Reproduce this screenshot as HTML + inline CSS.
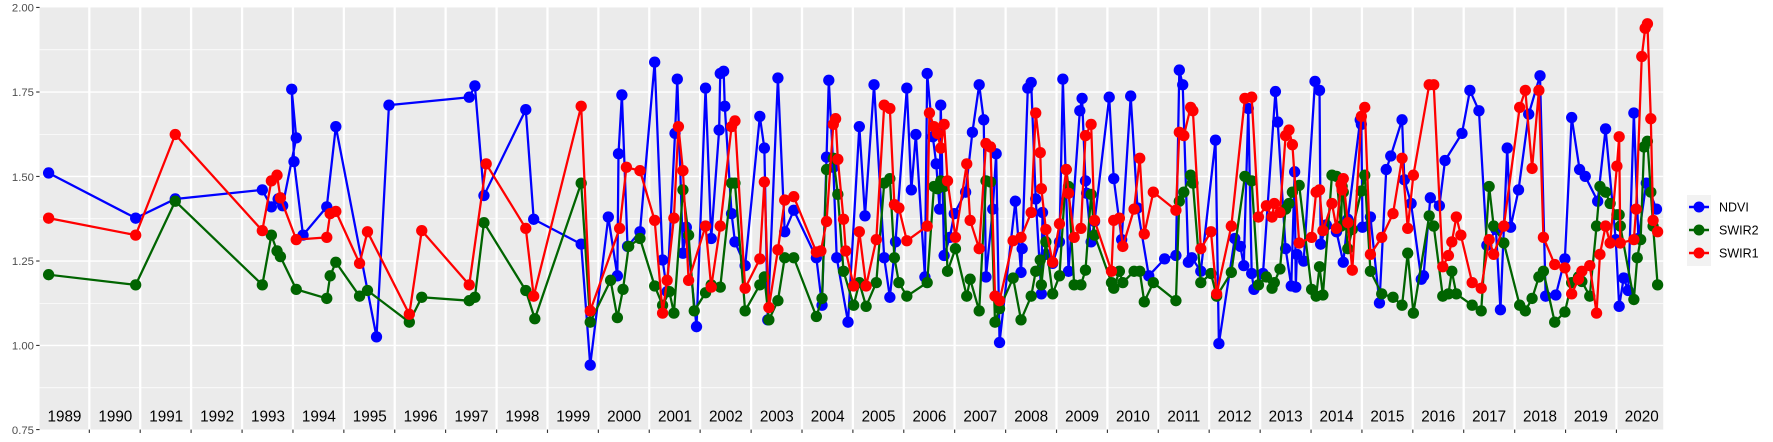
<!DOCTYPE html>
<html><head><meta charset="utf-8"><style>
html,body{margin:0;padding:0;background:#fff;}
svg{display:block;font-family:"Liberation Sans",Arial,sans-serif;}
</style></head><body>
<svg width="1773" height="442" viewBox="0 0 1773 442" xmlns="http://www.w3.org/2000/svg">
<defs>
<marker id="mb" markerUnits="userSpaceOnUse" markerWidth="12" markerHeight="12" refX="6" refY="6"><circle cx="6" cy="6" r="5" fill="#0000ff"/></marker>
<marker id="mg" markerUnits="userSpaceOnUse" markerWidth="12" markerHeight="12" refX="6" refY="6"><circle cx="6" cy="6" r="5" fill="#006400"/></marker>
<marker id="mr" markerUnits="userSpaceOnUse" markerWidth="12" markerHeight="12" refX="6" refY="6"><circle cx="6" cy="6" r="5" fill="#ff0000"/></marker>
</defs>
<g transform="scale(1.1307,1.1304)">
<rect x="35" y="6.6" width="1436" height="373.4" fill="#ebebeb"/>
<g stroke="#fff" stroke-width="0.6">
<line x1="35" x2="1471" y1="343" y2="343"/><line x1="35" x2="1471" y1="268.3" y2="268.3"/><line x1="35" x2="1471" y1="193.5" y2="193.5"/><line x1="35" x2="1471" y1="118.8" y2="118.8"/><line x1="35" x2="1471" y1="44" y2="44"/>
</g>
<g stroke="#fff" stroke-width="1.2">
<line x1="35" x2="1471" y1="305.6" y2="305.6"/><line x1="35" x2="1471" y1="230.9" y2="230.9"/><line x1="35" x2="1471" y1="156.1" y2="156.1"/><line x1="35" x2="1471" y1="81.4" y2="81.4"/>
</g>
<g stroke="#fff" stroke-width="2">
<line x1="79" x2="79" y1="6.6" y2="380"/><line x1="124" x2="124" y1="6.6" y2="380"/><line x1="169" x2="169" y1="6.6" y2="380"/><line x1="214.1" x2="214.1" y1="6.6" y2="380"/><line x1="259.1" x2="259.1" y1="6.6" y2="380"/><line x1="304.1" x2="304.1" y1="6.6" y2="380"/><line x1="349.1" x2="349.1" y1="6.6" y2="380"/><line x1="394.1" x2="394.1" y1="6.6" y2="380"/><line x1="439.2" x2="439.2" y1="6.6" y2="380"/><line x1="484.2" x2="484.2" y1="6.6" y2="380"/><line x1="529.2" x2="529.2" y1="6.6" y2="380"/><line x1="574.2" x2="574.2" y1="6.6" y2="380"/><line x1="619.2" x2="619.2" y1="6.6" y2="380"/><line x1="664.3" x2="664.3" y1="6.6" y2="380"/><line x1="709.3" x2="709.3" y1="6.6" y2="380"/><line x1="754.3" x2="754.3" y1="6.6" y2="380"/><line x1="799.3" x2="799.3" y1="6.6" y2="380"/><line x1="844.3" x2="844.3" y1="6.6" y2="380"/><line x1="889.4" x2="889.4" y1="6.6" y2="380"/><line x1="934.4" x2="934.4" y1="6.6" y2="380"/><line x1="979.4" x2="979.4" y1="6.6" y2="380"/><line x1="1024.4" x2="1024.4" y1="6.6" y2="380"/><line x1="1069.4" x2="1069.4" y1="6.6" y2="380"/><line x1="1114.5" x2="1114.5" y1="6.6" y2="380"/><line x1="1159.5" x2="1159.5" y1="6.6" y2="380"/><line x1="1204.5" x2="1204.5" y1="6.6" y2="380"/><line x1="1249.5" x2="1249.5" y1="6.6" y2="380"/><line x1="1294.5" x2="1294.5" y1="6.6" y2="380"/><line x1="1339.6" x2="1339.6" y1="6.6" y2="380"/><line x1="1384.6" x2="1384.6" y1="6.6" y2="380"/><line x1="1429.6" x2="1429.6" y1="6.6" y2="380"/>
</g>
<g stroke="#333" stroke-width="1">
<line x1="79" x2="79" y1="380" y2="383"/><line x1="124" x2="124" y1="380" y2="383"/><line x1="169" x2="169" y1="380" y2="383"/><line x1="214.1" x2="214.1" y1="380" y2="383"/><line x1="259.1" x2="259.1" y1="380" y2="383"/><line x1="304.1" x2="304.1" y1="380" y2="383"/><line x1="349.1" x2="349.1" y1="380" y2="383"/><line x1="394.1" x2="394.1" y1="380" y2="383"/><line x1="439.2" x2="439.2" y1="380" y2="383"/><line x1="484.2" x2="484.2" y1="380" y2="383"/><line x1="529.2" x2="529.2" y1="380" y2="383"/><line x1="574.2" x2="574.2" y1="380" y2="383"/><line x1="619.2" x2="619.2" y1="380" y2="383"/><line x1="664.3" x2="664.3" y1="380" y2="383"/><line x1="709.3" x2="709.3" y1="380" y2="383"/><line x1="754.3" x2="754.3" y1="380" y2="383"/><line x1="799.3" x2="799.3" y1="380" y2="383"/><line x1="844.3" x2="844.3" y1="380" y2="383"/><line x1="889.4" x2="889.4" y1="380" y2="383"/><line x1="934.4" x2="934.4" y1="380" y2="383"/><line x1="979.4" x2="979.4" y1="380" y2="383"/><line x1="1024.4" x2="1024.4" y1="380" y2="383"/><line x1="1069.4" x2="1069.4" y1="380" y2="383"/><line x1="1114.5" x2="1114.5" y1="380" y2="383"/><line x1="1159.5" x2="1159.5" y1="380" y2="383"/><line x1="1204.5" x2="1204.5" y1="380" y2="383"/><line x1="1249.5" x2="1249.5" y1="380" y2="383"/><line x1="1294.5" x2="1294.5" y1="380" y2="383"/><line x1="1339.6" x2="1339.6" y1="380" y2="383"/><line x1="1384.6" x2="1384.6" y1="380" y2="383"/><line x1="1429.6" x2="1429.6" y1="380" y2="383"/>
<line x1="32" x2="35" y1="6.6" y2="6.6"/><line x1="32" x2="35" y1="81.4" y2="81.4"/><line x1="32" x2="35" y1="156.1" y2="156.1"/><line x1="32" x2="35" y1="230.9" y2="230.9"/><line x1="32" x2="35" y1="305.6" y2="305.6"/><line x1="32" x2="35" y1="380" y2="380"/>
</g>
<g font-size="10" fill="#4d4d4d" text-anchor="end">
<text x="30" y="10">2.00</text><text x="30" y="85">1.75</text><text x="30" y="160">1.50</text><text x="30" y="234.5">1.25</text><text x="30" y="309">1.00</text><text x="30" y="384">0.75</text>
</g>
<g font-size="13.5" fill="#000" text-anchor="middle">
<text x="57" y="373">1989</text><text x="102" y="373">1990</text><text x="147" y="373">1991</text><text x="192" y="373">1992</text><text x="237" y="373">1993</text><text x="282" y="373">1994</text><text x="327" y="373">1995</text><text x="372" y="373">1996</text><text x="417" y="373">1997</text><text x="462" y="373">1998</text><text x="507" y="373">1999</text><text x="552" y="373">2000</text><text x="597" y="373">2001</text><text x="642" y="373">2002</text><text x="687" y="373">2003</text><text x="732" y="373">2004</text><text x="777" y="373">2005</text><text x="822" y="373">2006</text><text x="867" y="373">2007</text><text x="912" y="373">2008</text><text x="957" y="373">2009</text><text x="1002" y="373">2010</text><text x="1047" y="373">2011</text><text x="1092" y="373">2012</text><text x="1137" y="373">2013</text><text x="1182" y="373">2014</text><text x="1227" y="373">2015</text><text x="1272" y="373">2016</text><text x="1317" y="373">2017</text><text x="1362" y="373">2018</text><text x="1407" y="373">2019</text><text x="1452" y="373">2020</text>
</g>
<g fill="none" stroke-width="2" stroke-linejoin="round">
<polyline stroke="#0000ff" marker-start="url(#mb)" marker-mid="url(#mb)" marker-end="url(#mb)" points="43,153 120,193 155,176 232,168 240,183 246,176 250,182 262,122 258,79 260,143 268,208 289,183 297,112 333,298 344,93 415,86 420,76 428,173 465,97 472,194 514,216 522,323 538,192 546,244 547,136 550,84 555,218 566,205 579,55 586,230 590,258 597,118 599,70 604,224 607,201 616,289 624,78 629,211 636,115 637,65 640,63 641,94 647,189 650,214 659,235 672,103 676,131 679,283 688,69 694,205 702,186 722,228 727,270 731,139 733,71 737,148 740,228 750,285 760,112 765,191 773,75 782,228 787,263 792,214 802,78 806,168 810,119 818,245 820,65 825,121 828,145 831,185 832,93 835,226 840,210 844,189 854,170 860,117 866,75 870,106 872,245 878,185 881,136 884,303 898,178 903,241 904,220 909,78 912,73 916,176 921,260 922,188 925,225 931,233 937,214 940,70 945,240 955,98 957,87 960,160 961,171 965,214 968,196 981,86 985,158 992,212 1000,85 1006,184 1016,244 1030,229 1040,226 1043,62 1046,75 1051,232 1054,228 1062,240 1075,124 1078,304 1092,211 1097,218 1100,235 1104,96 1107,242 1109,256 1117,242 1128,81 1130,108 1137,220 1142,253 1145,152 1146,254 1147,225 1153,231 1163,72 1167,80 1168,216 1173,199 1182,205 1188,232 1192,194 1203,106 1204,110 1205,201 1212,192 1220,268 1226,150 1230,138 1240,106 1242,159 1248,180 1257,247 1259,244 1265,175 1273,182 1278,142 1293,118 1300,80 1308,98 1315,217 1323,203 1327,274 1333,131 1336,201 1343,168 1352,101 1362,67 1367,262 1376,261 1384,229 1390,104 1397,150 1402,156 1413,178 1420,114 1429,212 1432,271 1436,246 1440,257 1445,100 1449,211 1456,162 1465,185"/>
<polyline stroke="#006400" marker-start="url(#mg)" marker-mid="url(#mg)" marker-end="url(#mg)" points="43,243 120,252 155,178 232,252 240,208 245,222 248,227 262,256 289,264 292,244 297,232 318,262 325,257 362,285 373,263 415,266 420,263 428,197 465,257 473,282 514,162 522,285 540,248 546,281 551,256 556,218 566,211 579,253 586,270 592,258 596,277 604,168 609,208 614,275 624,259 629,252 637,254 647,162 650,162 659,275 672,252 676,245 680,283 688,266 694,228 702,228 722,280 727,264 731,150 737,140 741,172 746,240 755,270 760,250 766,271 775,250 782,162 787,158 791,228 795,250 802,262 820,250 826,165 829,167 832,160 835,165 838,240 845,220 855,262 858,247 866,275 872,160 876,161 880,285 884,273 896,246 903,283 912,262 916,240 920,230 921,252 925,214 931,260 937,244 943,150 945,165 950,252 956,252 960,239 965,172 968,208 983,250 985,255 990,240 993,250 1003,240 1008,240 1012,267 1020,250 1040,266 1043,178 1047,170 1053,155 1055,162 1062,250 1071,242 1076,262 1089,241 1101,156 1107,160 1113,252 1120,245 1125,255 1127,250 1132,238 1137,185 1140,180 1143,170 1149,164 1160,256 1164,262 1167,236 1170,261 1178,155 1182,156 1186,200 1187,165 1188,170 1192,220 1196,203 1204,169 1207,155 1212,240 1222,260 1232,263 1240,270 1245,224 1250,277 1264,191 1268,200 1276,262 1281,260 1284,240 1288,260 1302,270 1310,275 1317,165 1321,200 1330,215 1344,270 1349,275 1355,264 1361,245 1365,240 1375,285 1384,276 1390,250 1396,245 1399,249 1406,262 1412,200 1415,165 1420,170 1424,180 1430,190 1432,190 1433,200 1445,265 1448,228 1451,212 1454,130 1457,125 1460,170 1462,200 1466,252"/>
<polyline stroke="#ff0000" marker-start="url(#mr)" marker-mid="url(#mr)" marker-end="url(#mr)" points="43,193 120,208 155,119 232,204 240,160 245,155 248,175 262,212 289,210 292,189 297,187 318,233 325,205 362,278 373,204 415,252 430,145 465,202 472,262 514,94 522,275 548,202 554,148 566,151 579,195 586,277 590,248 596,193 600,112 604,151 609,248 624,200 629,254 637,200 647,112 650,107 659,255 672,229 676,161 680,272 688,221 694,177 702,174 722,223 726,222 731,196 737,110 739,105 741,141 746,194 748,222 755,253 760,205 766,253 775,212 782,93 787,96 791,181 795,184 802,213 820,200 822,100 826,112 829,118 832,131 835,110 838,160 845,210 855,145 858,195 866,220 872,127 876,130 880,262 884,266 896,213 903,210 912,188 916,100 920,135 921,167 925,203 931,232 937,198 943,150 945,171 950,210 956,202 960,120 965,110 968,195 983,240 985,195 990,193 993,218 1003,185 1008,140 1012,207 1020,170 1040,186 1043,117 1047,120 1053,95 1055,98 1062,220 1071,205 1076,260 1089,200 1101,87 1107,86 1113,192 1120,182 1125,192 1127,180 1132,188 1137,120 1140,115 1143,128 1149,215 1160,210 1164,170 1167,168 1170,204 1178,180 1182,202 1186,163 1187,168 1188,158 1192,197 1196,239 1204,103 1207,95 1212,225 1222,210 1232,189 1240,140 1245,202 1250,155 1264,75 1268,75 1276,236 1281,226 1284,214 1288,192 1292,208 1302,250 1310,255 1317,212 1321,225 1330,200 1344,95 1349,80 1355,149 1361,80 1365,210 1375,234 1384,237 1390,260 1396,247 1399,240 1406,235 1412,277 1415,225 1420,200 1424,215 1430,147 1432,121 1433,215 1445,212 1447,185 1452,50 1455,25 1457,21 1460,105 1462,195 1466,205"/>
</g>
</g>
<rect x="1687" y="195" width="24" height="71" fill="#f2f2f2"/>
<g stroke-width="2.5">
<line x1="1689" x2="1709" y1="207" y2="207" stroke="#0000ff"/><circle cx="1699" cy="207" r="5.5" fill="#0000ff"/>
<line x1="1689" x2="1709" y1="230" y2="230" stroke="#006400"/><circle cx="1699" cy="230" r="5.5" fill="#006400"/>
<line x1="1689" x2="1709" y1="253" y2="253" stroke="#ff0000"/><circle cx="1699" cy="253" r="5.5" fill="#ff0000"/>
</g>
<g font-size="12.5" fill="#000">
<text x="1719" y="211.5">NDVI</text><text x="1719" y="234.5">SWIR2</text><text x="1719" y="257.5">SWIR1</text>
</g>
</svg>
</body></html>
